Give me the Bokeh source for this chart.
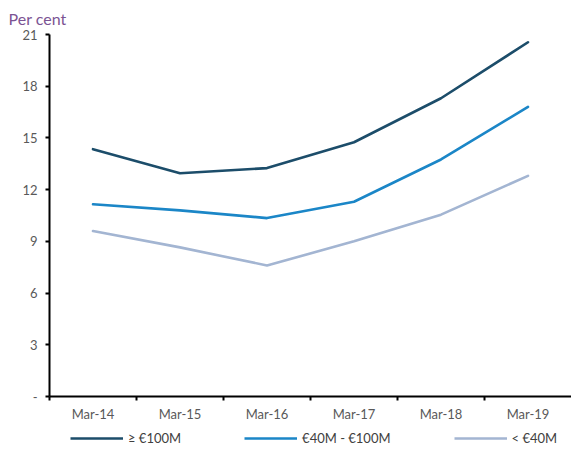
from bokeh.plotting import figure
from bokeh.layouts import column
from bokeh.models import FixedTicker, Legend, LegendItem, Range1d, Title
from bokeh.embed import file_html
from bokeh.resources import INLINE

categories = ["Mar-14", "Mar-15", "Mar-16", "Mar-17", "Mar-18", "Mar-19"]
large = [14.35, 12.95, 13.25, 14.75, 17.3, 20.55]
medium = [11.15, 10.8, 10.35, 11.3, 13.75, 16.8]
small = [9.6, 8.65, 7.6, 9.0, 10.55, 12.8]
series_names = ["\u2265 \u20ac100M", "\u20ac40M - \u20ac100M", "< \u20ac40M"]
series_colors = ["#1c4d6a", "#1b86c7", "#a3b5d2"]
y_ticks = [0, 3, 6, 9, 12, 15, 18, 21]
y_tick_labels = ["-", "3", "6", "9", "12", "15", "18", "21"]

FONT = "Lato"
x = list(range(len(categories)))
series = [large, medium, small]

p = figure(width=571, height=424, output_backend="svg", toolbar_location=None,
           x_range=Range1d(-0.5, 5.5), y_range=Range1d(0, 21),
           min_border_left=49, min_border_right=0, min_border_top=34, min_border_bottom=27)
p.outline_line_color = None
p.grid.grid_line_color = None
p.background_fill_color = "white"
p.border_fill_color = "white"

for vals, col in zip(series, series_colors):
    p.line(x, vals, line_color=col, line_width=2.6, line_join="round", line_cap="round")

# x axis: labels at category centres, ticks at boundaries (minor)
xa = p.xaxis[0]
xa.ticker = FixedTicker(ticks=x, minor_ticks=[i - 0.5 for i in range(len(categories))])
xa.major_label_overrides = {i: c for i, c in enumerate(categories)}
xa.major_tick_out = 0
xa.major_tick_in = 0
xa.minor_tick_out = 4
xa.minor_tick_in = 0
xa.minor_tick_line_color = "black"
xa.minor_tick_line_width = 2
xa.axis_line_color = "black"
xa.axis_line_width = 2
xa.major_label_text_font = FONT
xa.major_label_text_font_size = "13px"
xa.major_label_text_color = "#595959"
xa.major_label_standoff = 5

ya = p.yaxis[0]
ya.ticker = FixedTicker(ticks=y_ticks, minor_ticks=[])
ya.major_label_overrides = {t: l for t, l in zip(y_ticks, y_tick_labels)}
ya.major_tick_out = 4
ya.major_tick_in = 0
ya.major_tick_line_width = 2
ya.axis_line_color = "black"
ya.axis_line_width = 2
ya.major_label_text_font = FONT
ya.major_label_text_font_size = "13px"
ya.major_label_text_color = "#595959"
ya.major_label_standoff = 8

p.add_layout(Title(text="Per cent", align="left", offset=-41, standoff=10, vertical_align="top",
                   text_font=FONT, text_font_size="16px", text_font_style="normal",
                   text_color="#7b5393"), "above")

# legend strip beneath the chart (its lines lie outside the strip's visible range)
lf = figure(width=571, height=26, output_backend="svg", toolbar_location=None,
            x_axis_type=None, y_axis_type=None, x_range=Range1d(-0.5, 5.5), y_range=Range1d(-2, -1),
            min_border=0)
lf.outline_line_color = None
lf.grid.grid_line_color = None
lf.border_fill_color = "white"
lf.background_fill_color = "white"
lrs = [lf.line(x, vals, line_color=c, line_width=2.6) for vals, c in zip(series, series_colors)]
legend = Legend(items=[LegendItem(label=n, renderers=[r]) for n, r in zip(series_names, lrs)],
                orientation="horizontal", location=(21, 2),
                label_text_font=FONT, label_text_font_size="13px", label_text_color="#404040",
                glyph_width=53, label_standoff=5, spacing=63, border_line_color=None,
                background_fill_alpha=0, padding=2, margin=0)
lf.add_layout(legend)

layout = column(p, lf, spacing=0)

with open("out.html", "w") as f:
    f.write(file_html(layout, INLINE))
